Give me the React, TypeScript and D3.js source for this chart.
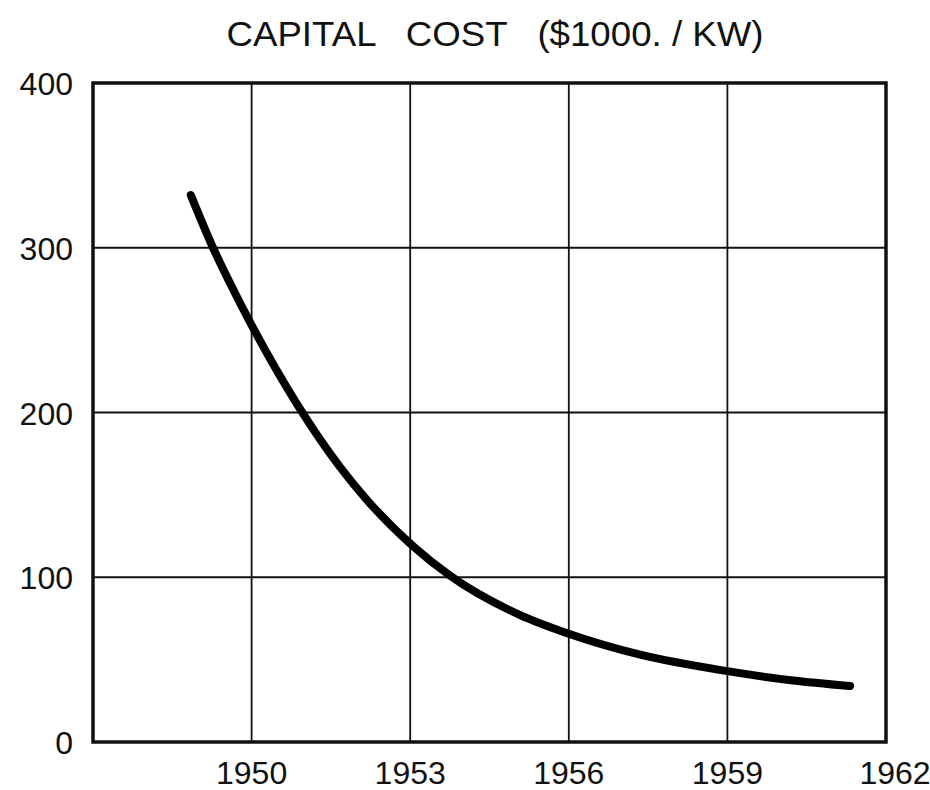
import React, { useRef, useEffect } from 'react';
import * as d3 from 'd3';

// values
const years = [1948.85, 1949.27, 1949.6, 1950.0, 1950.88, 1951.67, 1952.18, 1953.05, 1953.75, 1955.08, 1955.97, 1957.35, 1959.0, 1960.2, 1961.32];
const costs = [332, 300, 278, 253, 204, 167, 147, 119, 101, 77, 66, 53, 43, 37.5, 34];
const yearTicks = [1950, 1953, 1956, 1959, 1962];
const costTicks = [0, 100, 200, 300, 400];
const title = 'CAPITAL   COST   ($1000. / KW)';

const App = () => {
  const svgRef = useRef<SVGSVGElement>(null);
  const width = 930;
  const height = 790;

  useEffect(() => {
    const svg = d3.select(svgRef.current);
    svg.selectAll('*').remove();

    const margin = { top: 83, right: 44, bottom: 48, left: 93 };
    const x = d3.scaleLinear().domain([1947, 1962]).range([margin.left, width - margin.right]);
    const y = d3.scaleLinear().domain([0, 400]).range([height - margin.bottom, margin.top]);

    const font = '"Liberation Sans", Arial, sans-serif';

    // grid lines
    const grid = svg.append('g').attr('stroke', '#111').attr('stroke-width', 1.8);
    yearTicks.forEach(t => {
      grid.append('line')
        .attr('x1', x(t)).attr('x2', x(t))
        .attr('y1', y(0)).attr('y2', y(400));
    });
    costTicks.forEach(t => {
      grid.append('line')
        .attr('x1', x(1947)).attr('x2', x(1962))
        .attr('y1', y(t)).attr('y2', y(t));
    });

    // frame
    svg.append('rect')
      .attr('x', x(1947))
      .attr('y', y(400))
      .attr('width', x(1962) - x(1947))
      .attr('height', y(0) - y(400))
      .attr('fill', 'none')
      .attr('stroke', '#111')
      .attr('stroke-width', 3.5);

    // y labels
    svg.append('g').selectAll('text')
      .data(costTicks)
      .join('text')
      .attr('x', 73)
      .attr('y', d => y(d) + 12)
      .attr('text-anchor', 'end')
      .attr('fill', '#111')
      .style('font-family', font)
      .style('font-size', '32px')
      .text(d => String(d));

    // x labels
    svg.append('g').selectAll('text')
      .data(yearTicks)
      .join('text')
      .attr('x', d => (d === 1962 ? x(d) + 9 : x(d)))
      .attr('y', 784)
      .attr('text-anchor', 'middle')
      .attr('fill', '#111')
      .style('font-family', font)
      .style('font-size', '32px')
      .text(d => String(d));

    // title
    svg.append('text')
      .attr('x', 495)
      .attr('y', 46)
      .attr('text-anchor', 'middle')
      .attr('textLength', 537)
      .attr('lengthAdjust', 'spacingAndGlyphs')
      .attr('fill', '#111')
      .style('white-space', 'pre')
      .style('font-family', font)
      .style('font-size', '35px')
      .text(title);

    // cost curve
    const points: [number, number][] = years.map((yr, i) => [yr, costs[i]]);
    const line = d3.line<[number, number]>()
      .x(d => x(d[0]))
      .y(d => y(d[1]))
      .curve(d3.curveMonotoneX);

    svg.append('path')
      .datum(points)
      .attr('d', line)
      .attr('fill', 'none')
      .attr('stroke', '#000')
      .attr('stroke-width', 8)
      .attr('stroke-linecap', 'round');
  }, []);

  return (
    <svg
      ref={svgRef}
      width={width}
      height={height}
      style={{ position: 'absolute', left: 0, top: 0, background: '#fff', display: 'block' }}
    />
  );
};

export default App;
